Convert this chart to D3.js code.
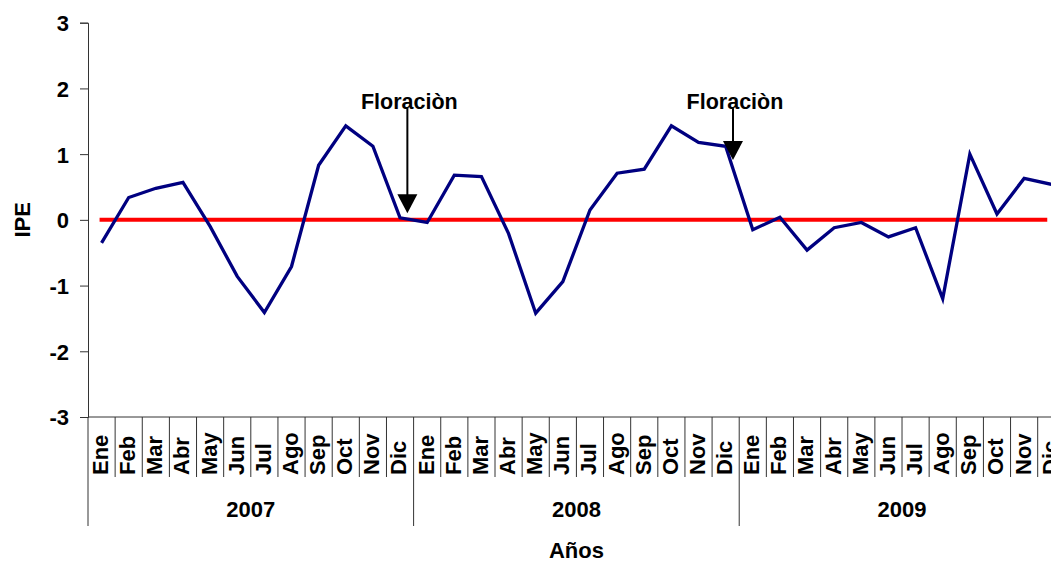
<!DOCTYPE html>
<html>
<head>
<meta charset="utf-8">
<script src="https://cdn.jsdelivr.net/npm/d3@7"></script>
<style>
  html, body { margin: 0; padding: 0; background: #fff; }
  svg { display: block; }
  text { font-family: "Liberation Sans", Arial, sans-serif; font-weight: bold; fill: #000; }
</style>
</head>
<body>
<svg id="chart" width="1051" height="561"></svg>
<script>
// ---- data ----
const years = ["2007", "2008", "2009"];
const months = ["Ene", "Feb", "Mar", "Abr", "May", "Jun", "Jul", "Ago", "Sep", "Oct", "Nov", "Dic"];
const ipe2007 = [-0.35, 0.34, 0.48, 0.57, -0.10, -0.86, -1.41, -0.71, 0.83, 1.43, 1.12, 0.03];
const ipe2008 = [-0.04, 0.68, 0.66, -0.21, -1.42, -0.94, 0.15, 0.71, 0.77, 1.43, 1.18, 1.12];
const ipe2009 = [-0.15, 0.04, -0.46, -0.12, -0.04, -0.26, -0.12, -1.20, 1.00, 0.09, 0.63, 0.54];
const referenceValue = 0;
const yTicks = [-3, -2, -1, 0, 1, 2, 3];
const annotationLabels = ["Floraciòn", "Floraciòn"];
const annotationYears = ["2007", "2008"];
const annotationMonths = ["Dic", "Dic"];
const annotationTipValues = [0.10, 0.91];
const annotationTopValue = 1.70;
const annotationTextValue = 1.80;
const yLabel = "IPE";
const xLabel = "Años";

(function () {
const seriesByYear = [ipe2007, ipe2008, ipe2009];
const rows = [];
years.forEach((yr, i) => months.forEach((m, j) => rows.push({ key: yr + "-" + m, year: yr, month: m, value: seriesByYear[i][j] })));

const svg = d3.select("#chart");
const pL = 88, pT = 22.7, pB = 417;
const step = 27.134;
const pR = pL + step * rows.length;
const fs = "22px";

const x = d3.scaleBand().domain(rows.map(d => d.key)).range([pL, pR]).paddingInner(0).paddingOuter(0);
const y = d3.scaleLinear().domain([-3, 3]).range([pB, pT]);
const cx = k => x(k) + x.bandwidth() / 2;

// y axis
const yAxis = d3.axisLeft(y).tickValues(yTicks).tickSize(8).tickPadding(11).tickFormat(d => String(d));
const gy = svg.append("g").attr("transform", `translate(${pL},0)`).call(yAxis);
gy.select(".domain").attr("stroke", "#333").attr("stroke-width", 1);
gy.selectAll(".tick line").attr("stroke", "#333");
gy.selectAll(".tick text").style("font-size", fs).style("font-family", "'Liberation Sans', Arial, sans-serif").style("font-weight", "bold").attr("fill", "#000").attr("dy", "0.36em");

// x axis line
svg.append("line").attr("x1", pL).attr("x2", pR).attr("y1", pB).attr("y2", pB).attr("stroke", "#333").attr("stroke-width", 1);

// month separators
svg.append("g").selectAll("line").data(rows).join("line")
  .attr("x1", d => x(d.key)).attr("x2", d => x(d.key))
  .attr("y1", pB).attr("y2", d => d.month === "Ene" ? 526 : 477)
  .attr("stroke", "#333").attr("stroke-width", 1);

// month labels
svg.append("g").selectAll("text").data(rows).join("text")
  .attr("transform", d => `translate(${cx(d.key) - 1.5},475) rotate(-90)`)
  .attr("text-anchor", "start").attr("dy", "0.36em")
  .style("font-size", fs)
  .text(d => d.month);

// year labels
svg.append("g").selectAll("text").data(years).join("text")
  .attr("x", yr => (x(yr + "-Ene") + x(yr + "-Dic") + x.bandwidth()) / 2)
  .attr("y", 509).attr("dy", "0.36em").attr("text-anchor", "middle")
  .style("font-size", fs)
  .text(yr => yr);

// axis titles
svg.append("text").attr("x", (pL + pR) / 2).attr("y", 550.5).attr("dy", "0.36em").attr("text-anchor", "middle").style("font-size", fs).text(xLabel);
svg.append("text").attr("transform", `translate(22,${y(0)}) rotate(-90)`).attr("dy", "0.36em").attr("text-anchor", "middle").style("font-size", fs).text(yLabel);

// reference line
svg.append("line")
  .attr("x1", cx(rows[0].key) - 2).attr("x2", cx(rows[rows.length - 1].key) - 4)
  .attr("y1", y(referenceValue)).attr("y2", y(referenceValue))
  .attr("stroke", "#ff0000").attr("stroke-width", 4);

// IPE line
const line = d3.line().x(d => cx(d.key)).y(d => y(d.value));
svg.append("path").datum(rows).attr("d", line)
  .attr("fill", "none").attr("stroke", "#000080").attr("stroke-width", 3.3).attr("stroke-linejoin", "miter");

// annotations
annotationLabels.forEach((lab, i) => {
  const k = annotationYears[i] + "-" + annotationMonths[i];
  const ax = cx(k) + 0.27 * step;
  const tipY = y(annotationTipValues[i]);
  const topY = y(annotationTopValue);
  const headH = 19, headW = 20;
  svg.append("line").attr("x1", ax).attr("x2", ax).attr("y1", topY).attr("y2", tipY - headH + 2)
    .attr("stroke", "#000").attr("stroke-width", 2);
  svg.append("path")
    .attr("d", `M${ax - headW / 2},${tipY - headH} L${ax + headW / 2},${tipY - headH} L${ax},${tipY} Z`)
    .attr("fill", "#000");
  svg.append("text").attr("x", ax + 2).attr("y", y(annotationTextValue)).attr("dy", "0.36em")
    .attr("text-anchor", "middle").style("font-size", "21.5px").text(lab);
});
})();
</script>
</body>
</html>
